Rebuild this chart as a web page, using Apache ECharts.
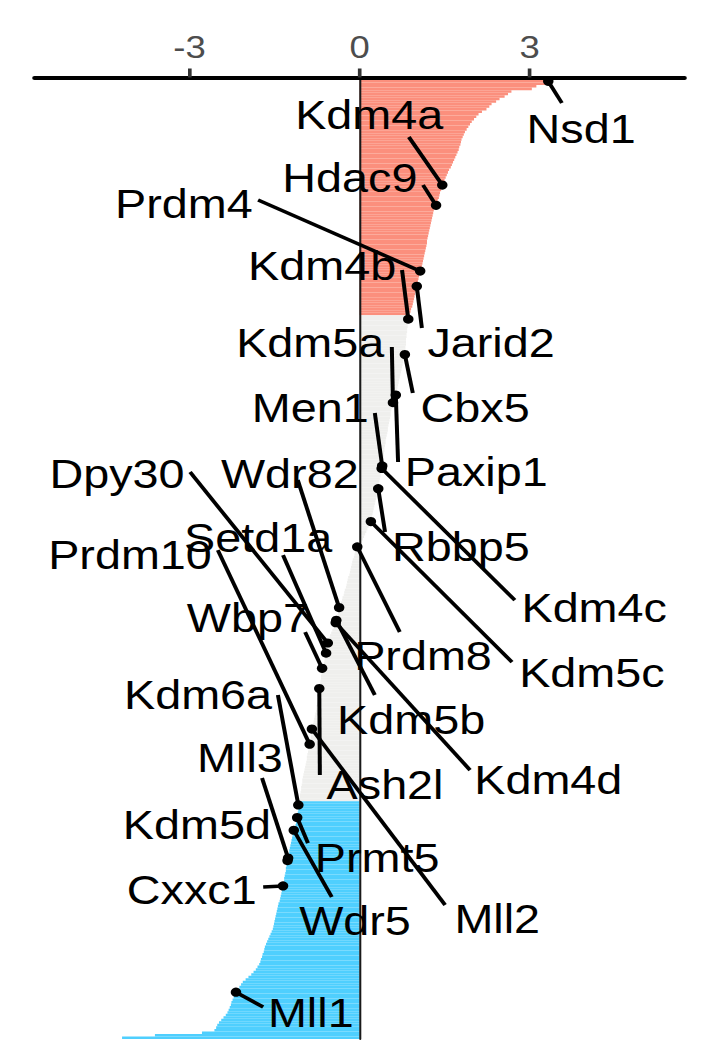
<!DOCTYPE html>
<html>
<head>
<meta charset="utf-8">
<script src="https://cdn.jsdelivr.net/npm/echarts@6/dist/echarts.min.js"></script>
<style>
html, body { margin: 0; padding: 0; background: #fff; overflow: hidden; }
#wrap { width: 708px; height: 1062px; overflow: hidden; }
#chart { width: 621px; height: 1062px; transform: scaleX(1.1401); transform-origin: 0 0; }
</style>
</head>
<body>
<div id="wrap"><div id="chart"></div></div>
<script>
// ---------- DATA ----------
// ranked scores, one per bar, top to bottom
const values = [
  3.78, 3.33, 3.27, 3.12, 3.04, 2.68, 2.62, 2.56, 2.47, 2.41,
  2.33, 2.29, 2.24, 2.16, 2.10, 2.06, 2.02, 1.98, 1.95, 1.92,
  1.89, 1.86, 1.84, 1.82, 1.80, 1.79, 1.78, 1.76, 1.75, 1.73,
  1.71, 1.69, 1.67, 1.65, 1.63, 1.61, 1.58, 1.56, 1.54, 1.52,
  1.50, 1.48, 1.46, 1.45, 1.44, 1.42, 1.41, 1.40, 1.38, 1.37,
  1.35, 1.33, 1.31, 1.30, 1.29, 1.28, 1.27, 1.26, 1.25, 1.24,
  1.23, 1.22, 1.21, 1.20, 1.19, 1.19, 1.18, 1.17, 1.16, 1.15,
  1.14, 1.13, 1.12, 1.11, 1.10, 1.09, 1.07, 1.06, 1.05, 1.04,
  1.03, 1.02, 1.01, 1.00, 0.99, 0.98, 0.97, 0.96, 0.95, 0.94,
  0.93, 0.91, 0.90, 0.88, 0.87, 0.86, 0.86, 0.85, 0.85, 0.84,
  0.84, 0.83, 0.83, 0.82, 0.82, 0.82, 0.81, 0.81, 0.80, 0.80,
  0.79, 0.78, 0.77, 0.76, 0.75, 0.74, 0.73, 0.72, 0.71, 0.70,
  0.69, 0.68, 0.67, 0.66, 0.65, 0.64, 0.62, 0.61, 0.59, 0.58,
  0.57, 0.56, 0.55, 0.55, 0.54, 0.53, 0.52, 0.51, 0.50, 0.50,
  0.49, 0.48, 0.47, 0.46, 0.46, 0.45, 0.44, 0.44, 0.43, 0.43,
  0.42, 0.42, 0.41, 0.40, 0.39, 0.38, 0.37, 0.37, 0.36, 0.35,
  0.34, 0.34, 0.33, 0.32, 0.31, 0.30, 0.29, 0.28, 0.27, 0.26,
  0.25, 0.24, 0.23, 0.22, 0.21, 0.20, 0.18, 0.16, 0.14, 0.12,
  0.10, 0.08, 0.06, 0.03, 0.01, -0.04, -0.06, -0.08, -0.09, -0.10,
  -0.12, -0.13, -0.14, -0.15, -0.16, -0.17, -0.18, -0.20, -0.21, -0.22,
  -0.23, -0.24, -0.26, -0.27, -0.28, -0.30, -0.31, -0.33, -0.34, -0.36,
  -0.37, -0.38, -0.39, -0.40, -0.41, -0.42, -0.44, -0.46, -0.48, -0.50,
  -0.52, -0.53, -0.55, -0.56, -0.57, -0.58, -0.58, -0.59, -0.60, -0.61,
  -0.62, -0.63, -0.65, -0.66, -0.67, -0.67, -0.68, -0.68, -0.69, -0.70,
  -0.70, -0.71, -0.72, -0.72, -0.73, -0.74, -0.74, -0.75, -0.76, -0.76,
  -0.77, -0.78, -0.79, -0.80, -0.81, -0.82, -0.83, -0.84, -0.85, -0.85,
  -0.86, -0.86, -0.87, -0.88, -0.89, -0.90, -0.91, -0.92, -0.93, -0.93,
  -0.94, -0.95, -0.96, -0.97, -0.98, -0.99, -1.00, -1.01, -1.01, -1.02,
  -1.03, -1.03, -1.04, -1.05, -1.05, -1.06, -1.07, -1.08, -1.08, -1.08,
  -1.09, -1.09, -1.10, -1.11, -1.12, -1.13, -1.14, -1.16, -1.17, -1.18,
  -1.19, -1.20, -1.21, -1.22, -1.23, -1.24, -1.24, -1.25, -1.26, -1.27,
  -1.28, -1.29, -1.30, -1.30, -1.31, -1.32, -1.33, -1.33, -1.34, -1.35,
  -1.36, -1.37, -1.38, -1.39, -1.40, -1.41, -1.43, -1.44, -1.45, -1.46,
  -1.47, -1.48, -1.49, -1.50, -1.51, -1.52, -1.53, -1.55, -1.57, -1.59,
  -1.61, -1.63, -1.65, -1.67, -1.68, -1.69, -1.71, -1.72, -1.74, -1.75,
  -1.77, -1.80, -1.83, -1.87, -1.91, -1.96, -2.01, -2.06, -2.09, -2.12,
  -2.15, -2.18, -2.20, -2.22, -2.24, -2.26, -2.27, -2.29, -2.31, -2.33,
  -2.36, -2.40, -2.44, -2.48, -2.51, -2.53, -2.56, -2.78, -3.61, -4.19
];
// how many bars at the top / bottom are coloured as up / down
const upCount = 94;
const downCount = 94;

// labelled genes and the rank (bar index) each one sits on
const geneNames = [
  "Nsd1", "Kdm4a", "Hdac9", "Prdm4", "Jarid2", "Kdm4b", "Cbx5", "Paxip1",
  "Kdm5a", "Men1", "Kdm4c", "Rbbp5", "Kdm5c", "Prdm8", "Wdr82", "Kdm5b",
  "Kdm4d", "Dpy30", "Setd1a", "Wbp7", "Ash2l", "Mll2", "Prdm10", "Kdm6a",
  "Prmt5", "Wdr5", "Mll3", "Kdm5d", "Cxxc1", "Mll1"
];
const geneRanks = [
  1, 42, 50, 76, 82, 95, 109, 125,
  128, 153, 154, 162, 175, 185, 209, 214,
  215, 223, 227, 233, 241, 257, 263, 287,
  292, 297, 308, 309, 319, 361
];

const tickValues = [-3, 0, 3];

// ---------- LAYOUT (label placement, in axis units: [score, bar row]) ----------
const labelText = [
  [3.91, 19.85], [0.17, 14.12], [-0.17, 39.22], [-3.10, 49.5], [2.32, 104.44],
  [-0.66, 74.0], [2.04, 130.13], [2.06, 155.43], [-0.87, 104.44], [-0.87, 130.13],
  [4.14, 209.18], [1.79, 184.68], [4.10, 234.48], [1.12, 228.15], [-1.23, 156.22],
  [0.91, 253.06], [3.33, 276.77], [-4.28, 156.22], [-1.79, 181.51], [-1.97, 212.74],
  [0.45, 278.75], [2.43, 331.71], [-4.05, 188.23], [-2.85, 243.17], [0.31, 307.6],
  [-0.08, 332.5], [-2.11, 268.08], [-2.87, 294.56], [-2.96, 320.25], [-0.86, 368.87]
];
const labelSegEnd = [
  [3.57, 9.58], [0.87, 23.02], [1.12, 41.99], [-1.79, 47.92], [1.10, 98.51],
  [0.75, 75.59], [0.94, 124.2], [0.68, 151.47], [0.57, 106.02], [0.27, 132.11],
  [2.74, 206.02], [0.45, 179.14], [2.69, 230.53], [0.71, 218.67], [-1.09, 158.59],
  [0.27, 243.57], [1.95, 273.21], [-2.99, 155.43], [-1.35, 188.23], [-0.96, 218.67],
  [-0.70, 275.19], [1.51, 326.57], [-2.50, 186.26], [-1.44, 243.57], [-0.91, 302.07],
  [-0.49, 323.41], [-1.72, 276.38], null, [-1.70, 319.46], [-1.70, 366.89]
];

const COLORS = { up: '#FB8F7D', mid: '#EFEFED', down: '#4FCFFE' };
const FONT = 'Liberation Sans';

const chart = echarts.init(document.getElementById('chart'), null, { renderer: 'svg' });
const N = values.length;
const cats = values.map((v, i) => String(i));

function renderLabel(params, api) {
  const g = params.dataIndex;
  const band = api.size([0, 1])[1];
  const y0 = api.coord([0, 0])[1];
  const toPx = (v, r) => [api.coord([v, 0])[0], y0 + r * band];
  const rank = geneRanks[g];
  const dot = toPx(values[rank], rank);
  const children = [];
  const seg = labelSegEnd[g];
  if (seg) {
    const e = toPx(seg[0], seg[1]);
    children.push({
      type: 'line',
      shape: { x1: dot[0], y1: dot[1], x2: e[0], y2: e[1] },
      style: { stroke: '#000', lineWidth: 3.5 }
    });
  }
  children.push({
    type: 'circle',
    shape: { cx: dot[0], cy: dot[1], r: 4.6 },
    style: { fill: '#000' }
  });
  const t = toPx(labelText[g][0], labelText[g][1]);
  children.push({
    type: 'text',
    x: t[0], y: t[1],
    style: {
      text: geneNames[g], fill: '#000', fontSize: 41, fontFamily: FONT,
      align: 'center', verticalAlign: 'middle'
    }
  });
  return { type: 'group', children: children };
}

chart.setOption({
  animation: false,
  backgroundColor: '#fff',
  textStyle: { fontFamily: FONT },
  grid: { left: 30.25, right: 20.55, top: 77.5, bottom: 23, containLabel: false, outerBoundsMode: 'none' },
  xAxis: {
    type: 'value', position: 'top', min: -5.735, max: 5.735, z: 5,
    axisLine: { show: true, onZero: false, lineStyle: { color: '#000', width: 4 } },
    axisTick: { show: true, customValues: tickValues, length: 9, lineStyle: { color: '#333', width: 3.2 } },
    axisLabel: { show: true, customValues: tickValues, fontSize: 32, color: '#4d4d4d', margin: 15, fontFamily: FONT },
    splitLine: { show: false }
  },
  yAxis: {
    type: 'category', inverse: true, data: cats, z: 5,
    axisLine: { show: true, onZero: true, lineStyle: { color: '#1a1a1a', width: 1.8 } },
    axisTick: { show: false }, axisLabel: { show: false }, splitLine: { show: false }
  },
  series: [
    {
      type: 'bar', data: values, barCategoryGap: '0%', barGap: '0%', silent: true,
      itemStyle: {
        color: function (p) {
          if (p.dataIndex < upCount) return COLORS.up;
          if (p.dataIndex >= N - downCount) return COLORS.down;
          return COLORS.mid;
        }
      }
    },
    {
      type: 'custom', silent: true, z: 10,
      renderItem: renderLabel,
      data: geneNames.map((n, i) => [values[geneRanks[i]], geneRanks[i]])
    }
  ]
});
</script>
</body>
</html>
